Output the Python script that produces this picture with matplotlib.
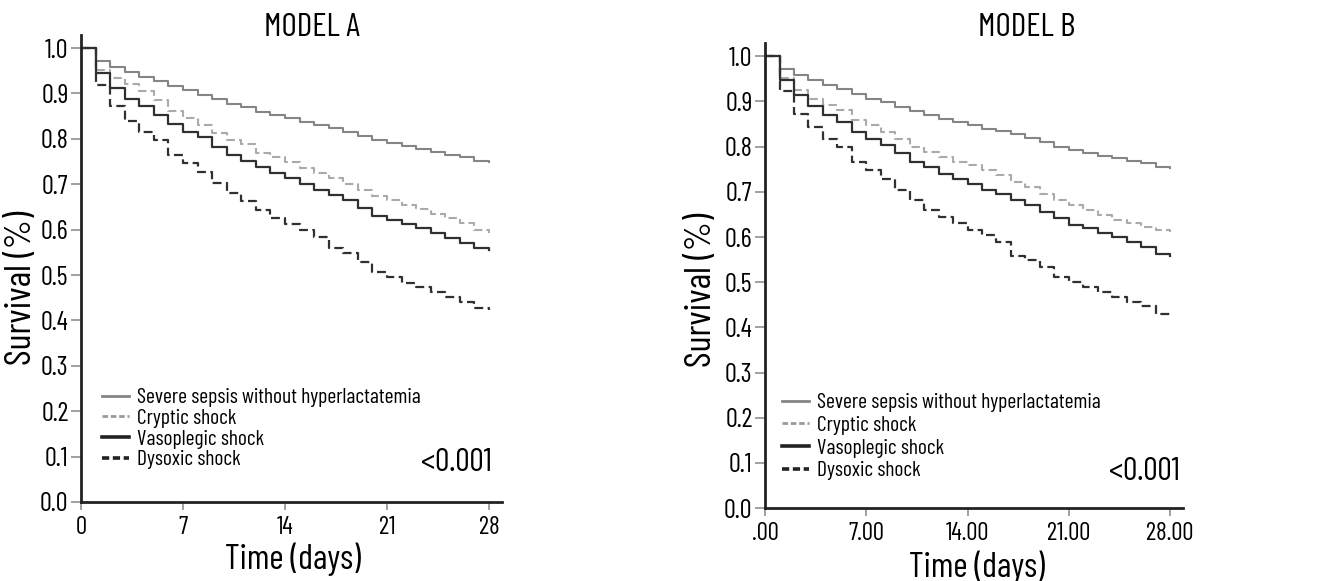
import numpy as np
import matplotlib
matplotlib.use('Agg')
import matplotlib.pyplot as plt
from matplotlib.lines import Line2D

plt.rcParams['font.family'] = ['Barlow Condensed', 'Roboto Condensed', 'DejaVu Sans']

days = np.arange(0, 29)

# survival, one value per day (step after each day)
severe_a = [1.0, 0.972, 0.959, 0.948, 0.937, 0.928, 0.916, 0.907, 0.896, 0.887, 0.877,
            0.869, 0.860, 0.852, 0.845, 0.838, 0.830, 0.823, 0.816, 0.807, 0.797,
            0.791, 0.784, 0.778, 0.771, 0.764, 0.759, 0.751, 0.749]
cryptic_a = [1.0, 0.952, 0.935, 0.920, 0.905, 0.885, 0.862, 0.845, 0.830, 0.812, 0.797,
             0.788, 0.768, 0.760, 0.748, 0.735, 0.725, 0.713, 0.700, 0.688, 0.675,
             0.665, 0.655, 0.645, 0.635, 0.625, 0.615, 0.600, 0.593]
vaso_a = [1.0, 0.946, 0.911, 0.887, 0.872, 0.852, 0.833, 0.816, 0.803, 0.783, 0.764,
          0.751, 0.739, 0.725, 0.713, 0.700, 0.687, 0.676, 0.665, 0.647, 0.630,
          0.621, 0.612, 0.603, 0.592, 0.581, 0.571, 0.559, 0.555]
dysox_a = [1.0, 0.918, 0.872, 0.840, 0.816, 0.797, 0.764, 0.746, 0.728, 0.702, 0.680,
           0.662, 0.643, 0.625, 0.612, 0.599, 0.584, 0.559, 0.548, 0.529, 0.507,
           0.496, 0.483, 0.473, 0.462, 0.451, 0.440, 0.427, 0.422]

severe_b = [1.0, 0.973, 0.958, 0.947, 0.936, 0.928, 0.917, 0.906, 0.899, 0.888, 0.879,
            0.871, 0.862, 0.855, 0.847, 0.840, 0.834, 0.827, 0.819, 0.810, 0.799,
            0.792, 0.786, 0.779, 0.774, 0.768, 0.763, 0.755, 0.752]
cryptic_b = [1.0, 0.953, 0.926, 0.906, 0.892, 0.881, 0.860, 0.847, 0.833, 0.818, 0.800,
             0.788, 0.777, 0.766, 0.759, 0.748, 0.737, 0.722, 0.711, 0.696, 0.681,
             0.670, 0.659, 0.648, 0.637, 0.631, 0.622, 0.615, 0.612]
vaso_b = [1.0, 0.947, 0.914, 0.889, 0.869, 0.855, 0.833, 0.816, 0.803, 0.785, 0.766,
          0.755, 0.740, 0.729, 0.718, 0.705, 0.696, 0.683, 0.670, 0.655, 0.641,
          0.626, 0.619, 0.609, 0.599, 0.589, 0.578, 0.563, 0.558]
dysox_b = [1.0, 0.923, 0.873, 0.844, 0.818, 0.800, 0.766, 0.748, 0.729, 0.704, 0.681,
           0.659, 0.644, 0.630, 0.615, 0.604, 0.589, 0.559, 0.548, 0.534, 0.512,
           0.501, 0.490, 0.479, 0.467, 0.457, 0.447, 0.430, 0.425]

groups = ['Severe sepsis without hyperlactatemia', 'Cryptic shock',
          'Vasoplegic shock', 'Dysoxic shock']
xticks = [0, 7, 14, 21, 28]
xlabels_a = ['0', '7', '14', '21', '28']
xlabels_b = ['.00', '7.00', '14.00', '21.00', '28.00']
yticks = np.arange(0, 1.01, 0.1)

styles = [dict(color='#858585', lw=1.5, ls='-'),
          dict(color='#aaaaaa', lw=1.5, ls=(0, (4, 2))),
          dict(color='#303030', lw=1.6, ls='-'),
          dict(color='#303030', lw=1.6, ls=(0, (4, 2)))]
leg_styles = [dict(color='#858585', lw=2.0, ls='-'),
              dict(color='#999999', lw=2.0, ls=(0, (2, 1))),
              dict(color='#222222', lw=2.6, ls='-'),
              dict(color='#222222', lw=2.6, ls=(0, (2, 1)))]

fig = plt.figure(figsize=(13.31, 5.81), dpi=100)
ax_a = fig.add_axes([0.0609, 0.136, 0.3163, 0.804])
ax_b = fig.add_axes([0.5748, 0.1256, 0.314, 0.800])


def draw_panel(ax, series, xlabels, title, title_x, ylab_xy, xlab_xy, leg_xy, p_xy, rowsp):
    for vals, st in zip(series, styles):
        ax.step(days, vals, where='post', **st)
    ax.set_xlim(0, 28.9)
    ax.set_ylim(0, 1.029)
    ax.set_xticks(xticks)
    ax.set_xticklabels(xlabels)
    ax.set_yticks(yticks)
    ax.set_yticklabels(['%.1f' % v for v in yticks])
    for s in ['top', 'right']:
        ax.spines[s].set_visible(False)
    for s in ['left', 'bottom']:
        ax.spines[s].set_linewidth(2.0)
        ax.spines[s].set_color('#222222')
    ax.tick_params(axis='y', length=7, width=1.3, color='#999999', labelsize=19, pad=2)
    ax.tick_params(axis='x', length=6, width=1.3, color='#999999', labelsize=18, pad=4)
    ax.set_ylabel('Survival (%)', fontsize=27)
    ax.yaxis.set_label_coords(*ylab_xy)
    ax.yaxis.label.set_va('center')
    ax.set_xlabel('Time (days)', fontsize=25)
    ax.xaxis.set_label_coords(*xlab_xy)
    ax.xaxis.label.set_va('center')
    fig.text(title_x, 1 - 28 / 581, title, fontsize=24, ha='center', va='center')
    handles = [Line2D([], [], **st) for st in leg_styles]
    ax.legend(handles, groups, loc='upper left', bbox_to_anchor=leg_xy, frameon=False,
              fontsize=15.5, handlelength=1.25, handletextpad=0.35, labelspacing=rowsp,
              borderpad=0, borderaxespad=0)
    ax.text(p_xy[0], p_xy[1], '<0.001', transform=ax.transAxes, fontsize=23,
            ha='right', va='center')


draw_panel(ax_a, [severe_a, cryptic_a, vaso_a, dysox_a], xlabels_a, 'MODEL A', 312 / 1331,
           (-0.1425, 0.458), (0.504, -0.122), (0.05, 0.244), (0.976, 0.0835), 0.08)
draw_panel(ax_b, [severe_b, cryptic_b, vaso_b, dysox_b], xlabels_b, 'MODEL B', 1027 / 1331,
           (-0.153, 0.469), (0.507, -0.127), (0.041, 0.247), (0.993, 0.077), 0.17)

plt.savefig('out.png', dpi=100)
